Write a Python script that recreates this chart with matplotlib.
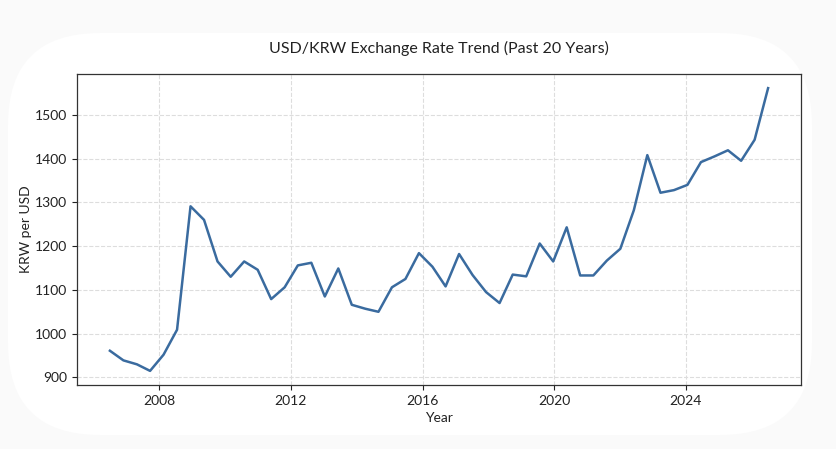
import matplotlib
matplotlib.use("Agg")
import matplotlib.pyplot as plt
from matplotlib.patches import FancyBboxPatch

plt.rcParams['font.family'] = ['Lato', 'DejaVu Sans']

# decimal years of each observation
years = [2006.50, 2006.91, 2007.32, 2007.72, 2008.13, 2008.54, 2008.95, 2009.36,
         2009.77, 2010.17, 2010.58, 2010.99, 2011.40, 2011.81, 2012.21, 2012.62,
         2013.03, 2013.44, 2013.85, 2014.26, 2014.66, 2015.07, 2015.48, 2015.89,
         2016.30, 2016.70, 2017.11, 2017.52, 2017.93, 2018.34, 2018.74, 2019.15,
         2019.56, 2019.97, 2020.38, 2020.79, 2021.19, 2021.60, 2022.01, 2022.42,
         2022.83, 2023.23, 2023.64, 2024.05, 2024.46, 2024.87, 2025.28, 2025.68,
         2026.09, 2026.50]

# KRW per USD
rates = [961, 939, 930, 915, 952, 1009, 1291, 1260, 1165, 1130,
         1165, 1146, 1079, 1106, 1156, 1162, 1085, 1149, 1066, 1057,
         1050, 1106, 1125, 1184, 1153, 1108, 1182, 1134, 1095, 1070,
         1135, 1131, 1206, 1165, 1243, 1133, 1133, 1167, 1194, 1282,
         1408, 1322, 1328, 1340, 1392, 1405, 1419, 1395, 1443, 1561]

xticks = [2008, 2012, 2016, 2020, 2024]
yticks = [900, 1000, 1100, 1200, 1300, 1400, 1500]

fig = plt.figure(figsize=(8.37, 4.49), dpi=100, facecolor='#fafafa')

# rounded white card behind the chart
card = FancyBboxPatch((8 / 837, 1 - 435 / 449), (812 - 8) / 837, (435 - 33) / 449,
                      boxstyle="round,pad=0,rounding_size=0.11",
                      transform=fig.transFigure, facecolor='white',
                      edgecolor='none', zorder=-10, mutation_aspect=837 / 449)
fig.patches.append(card)

ax = fig.add_axes([0.092, 0.1425, 0.865, 0.6927])
ax.set_zorder(5)
ax.set_facecolor('white')
ax.plot(years, rates, color='#3a6b9f', linewidth=1.8)

ax.set_xticks(xticks)
ax.set_yticks(yticks)
ax.tick_params(labelsize=10, colors='#222222', length=3.5, width=0.8)
ax.grid(True, linestyle='--', color='#dddddd', linewidth=0.8)
ax.set_axisbelow(True)
for s in ax.spines.values():
    s.set_color('#333333')
    s.set_linewidth(0.9)

ax.set_title("USD/KRW Exchange Rate Trend (Past 20 Years)", fontsize=11.5, pad=15, color='#222222')
ax.set_xlabel("Year", fontsize=10, color='#222222')
ax.set_ylabel("KRW per USD", fontsize=10, color='#222222', labelpad=2)

fig.savefig("out.png", dpi=100, facecolor=fig.get_facecolor())
